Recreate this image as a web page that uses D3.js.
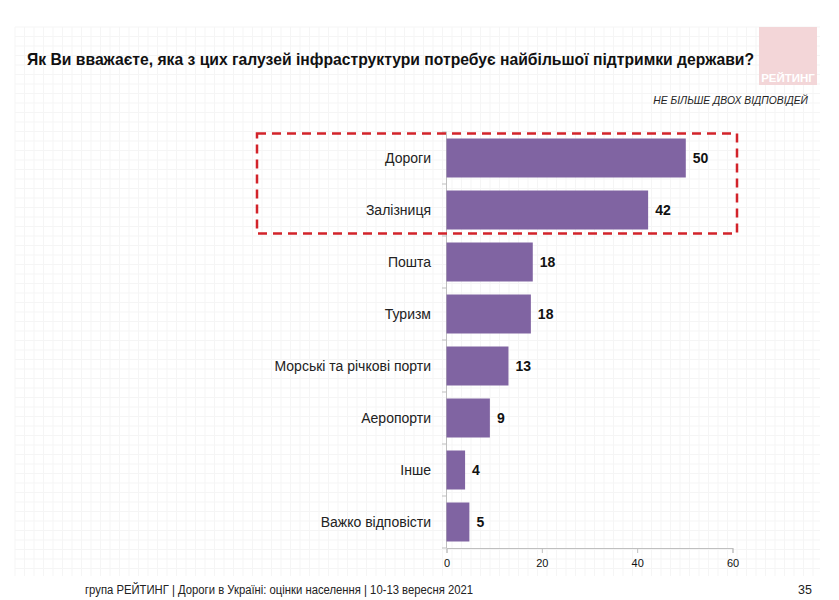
<!DOCTYPE html>
<html>
<head>
<meta charset="utf-8">
<script src="https://cdn.jsdelivr.net/npm/d3@7"></script>
<style>
  body { margin: 0; background: #fff; }
  svg { display: block; font-family: "Liberation Sans", Arial, sans-serif; }
</style>
</head>
<body>
<svg id="chart" width="839" height="600"></svg>
<script>
// data
const categories = ["Дороги", "Залізниця", "Пошта", "Туризм", "Морські та річкові порти", "Аеропорти", "Інше", "Важко відповісти"];
const values = [50.2, 42.3, 18.1, 17.7, 13.0, 9.1, 3.9, 4.8];
const valueLabels = ["50", "42", "18", "18", "13", "9", "4", "5"];
const xTicks = [0, 20, 40, 60];
const highlighted = ["Дороги", "Залізниця"];

const svg = d3.select("#chart");

// faint squared paper background
const grid = svg.append("g");
for (let gx = 15; gx <= 820; gx += 9.5) {
  grid.append("line").attr("x1", gx).attr("x2", gx).attr("y1", 27).attr("y2", 576)
    .attr("stroke", "#f5f5f5").attr("stroke-width", 1);
}
for (let gy = 27; gy <= 576; gy += 9.5) {
  grid.append("line").attr("x1", 15).attr("x2", 820).attr("y1", gy).attr("y2", gy)
    .attr("stroke", "#f5f5f5").attr("stroke-width", 1);
}

// logo
svg.append("rect").attr("x", 759).attr("y", 27).attr("width", 58).attr("height", 58)
  .attr("fill", "#f3d6d8");
svg.append("text").attr("x", 788).attr("y", 82).attr("text-anchor", "middle")
  .attr("fill", "#fff").style("font-size", "11.5px").style("font-weight", "bold")
  .text("РЕЙТИНГ");

// title
svg.append("text").attr("x", 27).attr("y", 65)
  .style("font-size", "15.7px").style("font-weight", "bold").attr("fill", "#111")
  .text("Як Ви вважаєте, яка з цих галузей інфраструктури потребує найбільшої підтримки держави?");

svg.append("text").attr("x", 808).attr("y", 104).attr("text-anchor", "end")
  .style("font-size", "10.3px").style("font-style", "italic").attr("fill", "#222")
  .text("НЕ БІЛЬШЕ ДВОХ ВІДПОВІДЕЙ");

// scales
const x = d3.scaleLinear().domain([0, 60]).range([446.5, 732.5]);
const y = d3.scaleBand().domain(categories).range([132, 548]).paddingInner(0.25).paddingOuter(0.125);

// x axis
const xAxis = svg.append("g").attr("transform", "translate(0,548)")
  .call(d3.axisBottom(x).tickValues(xTicks).tickSize(5).tickPadding(6));
xAxis.select(".domain").attr("stroke", "#bfbfbf");
xAxis.selectAll(".tick line").attr("stroke", "#bfbfbf");
xAxis.selectAll("text").style("font-size", "11px").attr("fill", "#111")
  .style("font-family", "Liberation Sans, Arial, sans-serif");

// y axis line with separators between categories
const yLine = svg.append("g");
yLine.append("line").attr("x1", 446.5).attr("x2", 446.5).attr("y1", 132).attr("y2", 548)
  .attr("stroke", "#bfbfbf");
const step = y.step();
yLine.selectAll(".sep").data(d3.range(categories.length + 1)).join("line")
  .attr("x1", 442).attr("x2", 446.5)
  .attr("y1", i => 132 + i * step).attr("y2", i => 132 + i * step)
  .attr("stroke", "#bfbfbf");

// bars
svg.append("g").selectAll("rect").data(categories).join("rect")
  .attr("x", x(0))
  .attr("y", d => y(d))
  .attr("width", (d, i) => x(values[i]) - x(0))
  .attr("height", y.bandwidth())
  .attr("fill", "#8064a2");

// category labels
svg.append("g").selectAll("text").data(categories).join("text")
  .attr("x", 431)
  .attr("y", d => y(d) + y.bandwidth() / 2)
  .attr("dy", "0.35em")
  .attr("text-anchor", "end")
  .style("font-size", "14px").attr("fill", "#222")
  .text(d => d);

// value labels
svg.append("g").selectAll("text").data(categories).join("text")
  .attr("x", (d, i) => x(values[i]) + 7)
  .attr("y", d => y(d) + y.bandwidth() / 2)
  .attr("dy", "0.35em")
  .style("font-size", "14px").style("font-weight", "bold").attr("fill", "#111")
  .text((d, i) => valueLabels[i]);

// red dashed highlight box
const hTop = y(highlighted[0]) - 5;
const hBot = y(highlighted[highlighted.length - 1]) + y.bandwidth() + 4;
svg.append("rect")
  .attr("x", 257).attr("y", hTop)
  .attr("width", 480).attr("height", hBot - hTop)
  .attr("fill", "none").attr("stroke", "#d2232a").attr("stroke-width", 2.5)
  .attr("stroke-dasharray", "9,6");

// footer (condensed face in the original, squeezed to the same width)
svg.append("text").attr("x", 85).attr("y", 594)
  .style("font-size", "12.5px").attr("fill", "#222")
  .attr("textLength", 388).attr("lengthAdjust", "spacingAndGlyphs")
  .text("група РЕЙТИНГ | Дороги в Україні: оцінки населення | 10-13 вересня 2021");
svg.append("text").attr("x", 812).attr("y", 594).attr("text-anchor", "end")
  .style("font-size", "12.5px").attr("fill", "#222")
  .text("35");
</script>
</body>
</html>
